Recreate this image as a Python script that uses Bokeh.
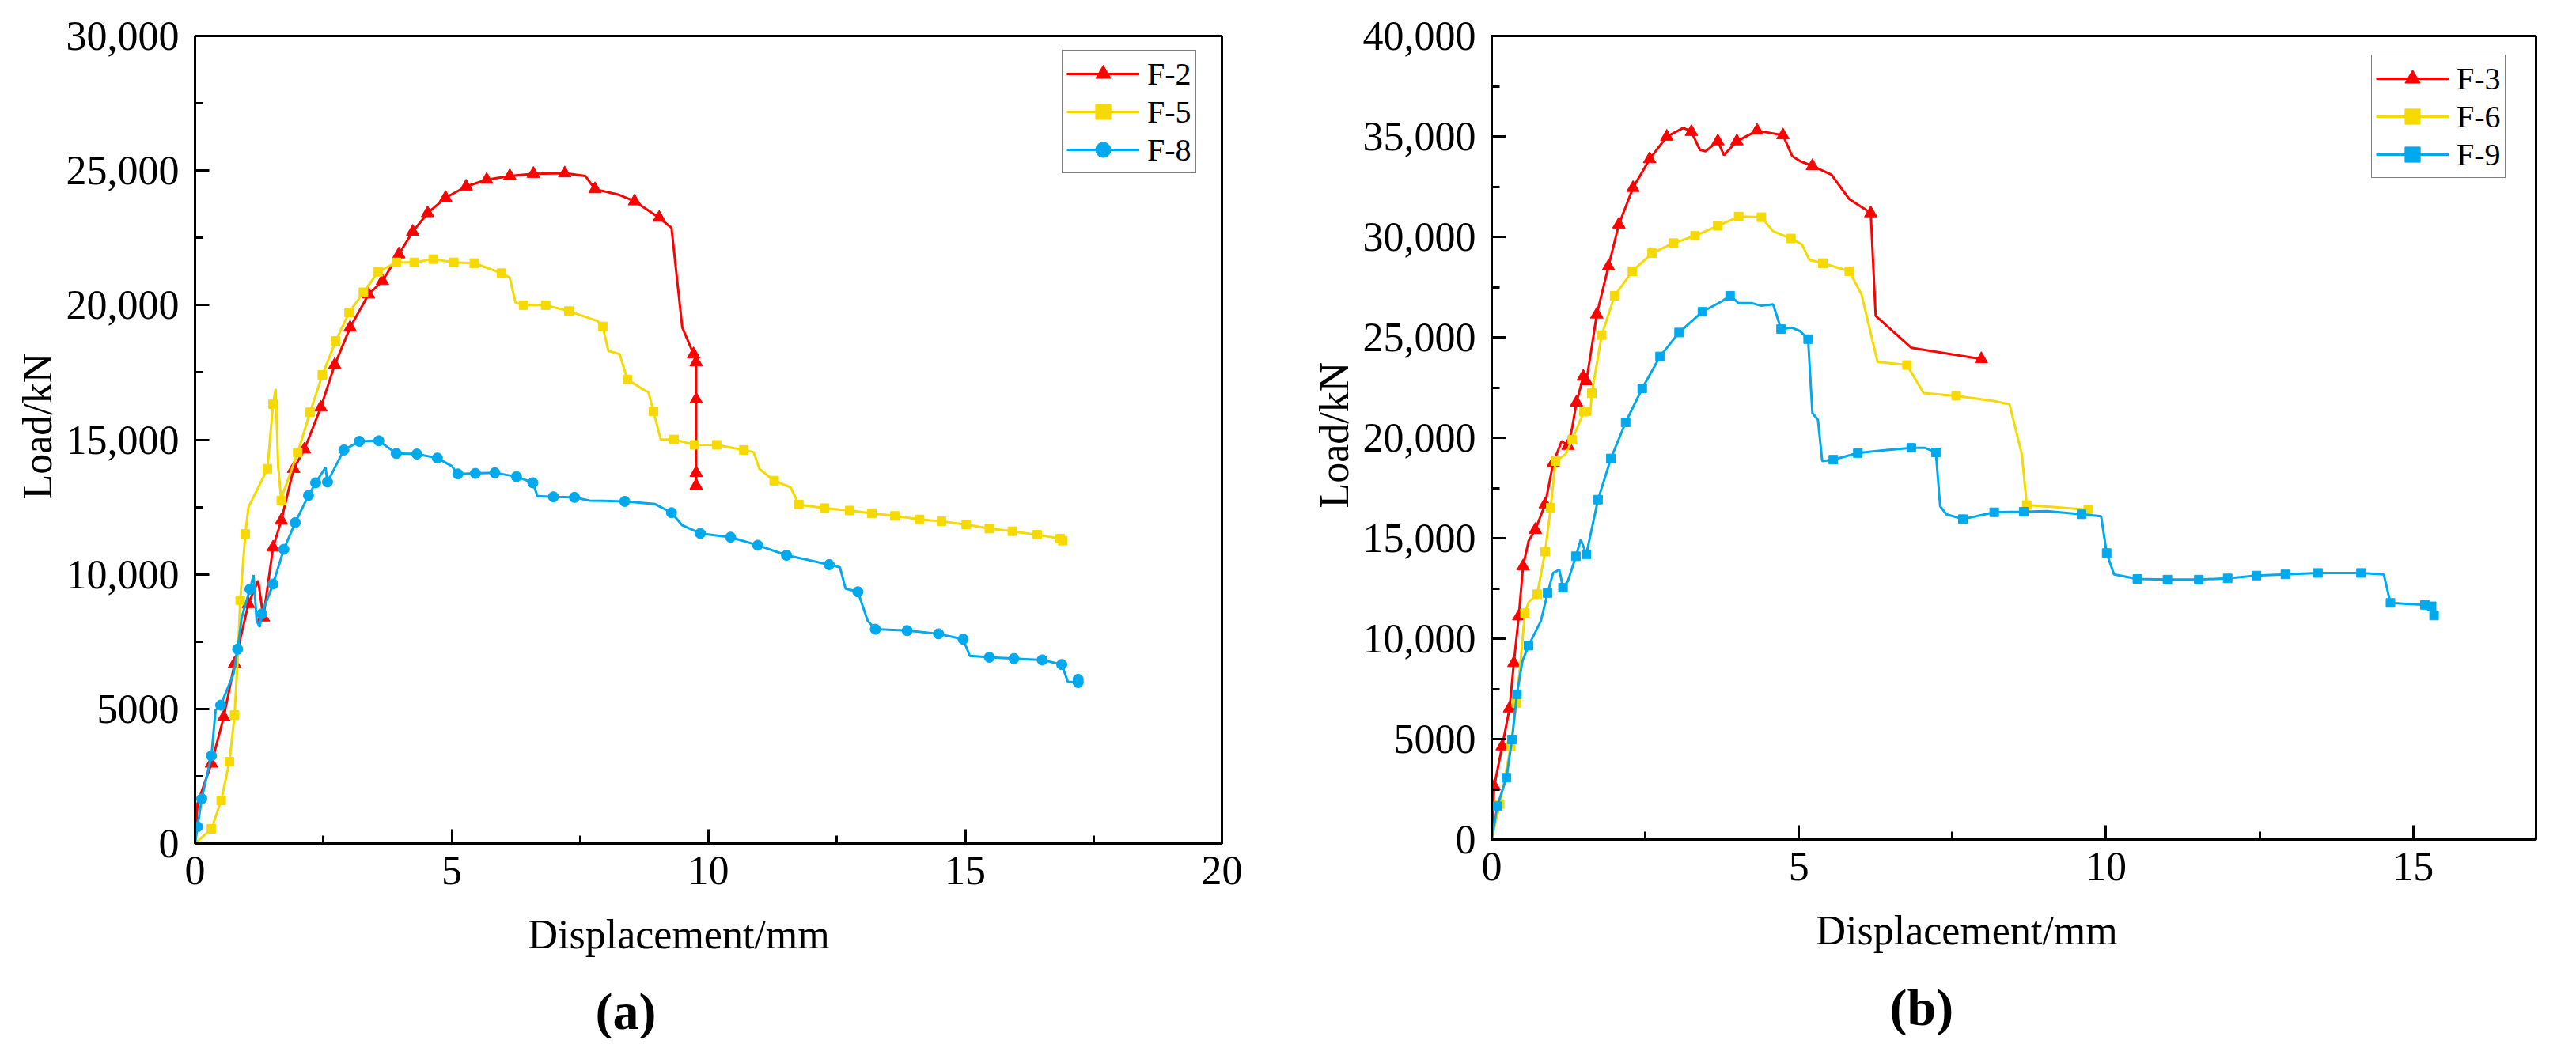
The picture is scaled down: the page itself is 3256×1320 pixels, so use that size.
from bokeh.plotting import figure
from bokeh.layouts import row
from bokeh.models import FixedTicker, Range1d, Legend, LegendItem, Title
from bokeh.embed import file_html
from bokeh.resources import INLINE

# ---------------- data: panel (a) ----------------
f2_x = [0, 0.05, 0.32, 0.56, 0.77, 1.04, 1.23, 1.33, 1.52, 1.68, 1.92, 2.13, 2.45, 2.72, 3.02, 3.38, 3.65,
        3.97, 4.24, 4.53, 4.88, 5.28, 5.68, 6.13, 6.59, 7.2, 7.6, 7.79, 8.24, 8.56, 9.04, 9.28, 9.49, 9.71,
        9.76, 9.76, 9.76, 9.76]
f2_y = [0, 1500, 2970, 4700, 6680, 8900, 9770, 8400, 11000, 12000, 13920, 14640, 16200, 17780, 19170, 20400,
        20900, 21890, 22730, 23420, 23990, 24410, 24660, 24800, 24880, 24900, 24800, 24310, 24110, 23860,
        23250, 22870, 19170, 18180, 17880, 16500, 13770, 13300]
f2_nomark = [0, 1, 6, 26, 28, 31, 32]

f5_x = [0, 0.32, 0.51, 0.67, 0.77, 0.83, 0.88, 0.98, 1.04, 1.41, 1.52, 1.57, 1.62, 1.68, 1.71, 2.0, 2.24,
        2.48, 2.74, 3.0, 3.28, 3.57, 3.92, 4.27, 4.64, 5.04, 5.44, 5.97, 6.13, 6.24, 6.4, 6.83, 7.28, 7.84,
        7.94, 8.05, 8.27, 8.42, 8.75, 8.83, 8.93, 9.07, 9.33, 9.73, 10.16, 10.69, 10.88, 10.99, 11.28, 11.6,
        11.76, 12.26, 12.75, 13.18, 13.63, 14.11, 14.54, 15.02, 15.47, 15.92, 16.4, 16.85, 16.9]
f5_y = [0, 545, 1600, 3040, 4770, 6800, 9030, 11500, 12490, 13920, 16320, 16890, 14000, 12740, 12980, 14520,
        16020, 17410, 18670, 19730, 20480, 21240, 21590, 21590, 21710, 21590, 21560, 21190, 21020, 20100,
        20000, 20000, 19780, 19410, 19210, 18300, 18180, 17240, 16840, 16770, 16050, 15010, 15010, 14810,
        14810, 14620, 14540, 13920, 13480, 13230, 12590, 12460, 12370, 12270, 12170, 12040, 11970, 11850,
        11700, 11600, 11470, 11330, 11250]
f5_nomark = [0, 5, 8, 11, 12, 14, 28, 29, 33, 35, 36, 38, 39, 41, 46, 47, 49]

f8_x = [0, 0.05, 0.13, 0.32, 0.4, 0.5, 0.75, 0.83, 0.91, 1.07, 1.14, 1.2, 1.26, 1.3, 1.52, 1.73, 1.95, 2.21,
        2.35, 2.54, 2.58, 2.9, 3.2, 3.58, 3.92, 4.32, 4.72, 5.0, 5.12, 5.46, 5.84, 6.26, 6.58, 6.67, 6.98,
        7.39, 7.68, 8.37, 8.96, 9.28, 9.49, 9.84, 10.43, 10.96, 11.52, 12.35, 12.56, 12.67, 12.91, 13.1,
        13.25, 13.87, 14.48, 14.96, 15.09, 15.47, 15.95, 16.5, 16.88, 17.0, 17.2, 17.2]
f8_y = [0, 620, 1660, 3260, 4950, 5140, 6300, 7220, 8400, 9450, 9970, 8280, 8040, 8530, 9640, 10930, 11920,
        12930, 13400, 13970, 13430, 14620, 14940, 14960, 14490, 14470, 14320, 14020, 13730, 13750, 13770,
        13630, 13400, 12910, 12880, 12860, 12740, 12710, 12610, 12290, 11820, 11520, 11380, 11080, 10710,
        10360, 10260, 9470, 9350, 8280, 7960, 7910, 7790, 7590, 6970, 6920, 6870, 6820, 6650, 6010, 5980,
        6100]
f8_nomark = [0, 4, 6, 8, 10, 11, 12, 19, 27, 33, 36, 38, 40, 46, 47, 49, 54, 59]

# ---------------- data: panel (b) ----------------
f3_x = [0, 0.04, 0.17, 0.29, 0.36, 0.44, 0.51, 0.6, 0.71, 0.87, 1.0, 1.14, 1.24, 1.31, 1.38, 1.49, 1.54, 1.61,
        1.71, 1.9, 2.07, 2.3, 2.57, 2.85, 3.12, 3.25, 3.39, 3.48, 3.68, 3.78, 3.99, 4.32, 4.74, 4.89, 5.02,
        5.22, 5.53, 5.82, 6.09, 6.17, 6.25, 6.83, 7.97]
f3_y = [0, 2650, 4640, 6530, 8790, 11110, 13600, 14860, 15420, 16690, 18740, 19840, 19600, 20500, 21760,
        23050, 22820, 24150, 26140, 28530, 30620, 32440, 33870, 34990, 35430, 35230, 34330, 34260, 34760,
        34070, 34760, 35290, 35060, 34030, 33770, 33530, 33100, 31880, 31350, 31180, 26070, 24480, 23920]
f3_nomark = [0, 7, 11, 13, 17, 24, 26, 27, 29, 33, 34, 36, 37, 38, 40, 41]

f6_x = [0, 0.13, 0.31, 0.4, 0.47, 0.54, 0.6, 0.74, 0.87, 0.96, 1.04, 1.2, 1.31, 1.5, 1.57, 1.6, 1.63, 1.79,
        2.0, 2.29, 2.61, 2.96, 3.31, 3.68, 4.02, 4.39, 4.58, 4.87, 5.05, 5.17, 5.39, 5.82, 6.02, 6.28, 6.76,
        7.03, 7.56, 8.17, 8.43, 8.63, 8.71, 9.3, 9.71]
f6_y = [0, 1760, 4640, 6800, 8890, 11280, 11810, 12210, 14330, 16520, 18840, 19170, 19900, 21300, 21500,
        21100, 22220, 25110, 27070, 28290, 29190, 29690, 30050, 30550, 31010, 30980, 30280, 29920, 29620,
        28860, 28690, 28290, 27130, 23780, 23620, 22220, 22090, 21830, 21660, 19170, 16650, 16520, 16420]
f6_nomark = [0, 4, 6, 11, 14, 15, 26, 28, 29, 32, 33, 35, 37, 38, 39, 41]

f9_x = [0, 0.09, 0.24, 0.33, 0.41, 0.5, 0.6, 0.8, 0.91, 1.0, 1.1, 1.16, 1.24, 1.37, 1.45, 1.54, 1.73, 1.94,
        2.18, 2.45, 2.74, 3.05, 3.43, 3.75, 3.88, 4.02, 4.24, 4.39, 4.58, 4.71, 4.89, 5.02, 5.15, 5.22, 5.31,
        5.38, 5.56, 5.96, 6.36, 6.83, 7.05, 7.23, 7.3, 7.4, 7.67, 8.18, 8.66, 9.04, 9.6, 9.92, 10.01, 10.13,
        10.51, 11.0, 11.51, 11.98, 12.45, 12.92, 13.45, 14.15, 14.52, 14.63, 15.19, 15.3, 15.34]
f9_y = [0, 1660, 3080, 4980, 7230, 8890, 9650, 10880, 12270, 13270, 13430, 12540, 12870, 14100, 14930, 14200,
        16920, 18970, 20770, 22460, 24050, 25240, 26270, 26800, 27070, 26700, 26700, 26570, 26640, 25410,
        25480, 25310, 24910, 21230, 20900, 18840, 18910, 19240, 19370, 19500, 19500, 19270, 16590, 16190,
        15950, 16290, 16320, 16350, 16190, 16090, 14260, 13200, 12970, 12940, 12940, 13000, 13140, 13200,
        13270, 13270, 13200, 11780, 11680, 11610, 11150]
f9_nomark = [0, 5, 7, 9, 10, 12, 14, 23, 25, 26, 27, 28, 30, 31, 33, 34, 35, 38, 40, 42, 43, 47, 49, 51, 60]

# ---------------- ticks ----------------
xa_ticks = [0, 5, 10, 15, 20]
xa_minor = [2.5, 7.5, 12.5, 17.5]
ya_ticks = [0, 5000, 10000, 15000, 20000, 25000, 30000]
ya_labels = ["0", "5000", "10,000", "15,000", "20,000", "25,000", "30,000"]
ya_minor = [2500, 7500, 12500, 17500, 22500, 27500]

xb_ticks = [0, 5, 10, 15]
xb_minor = [2.5, 7.5, 12.5]
yb_ticks = [0, 5000, 10000, 15000, 20000, 25000, 30000, 35000, 40000]
yb_labels = ["0", "5000", "10,000", "15,000", "20,000", "25,000", "30,000", "35,000", "40,000"]
yb_minor = [2500, 7500, 12500, 17500, 22500, 27500, 32500, 37500]

FONT = "Liberation Serif"
RED = "#FF0000"
YELLOW = "#F5D900"
BLUE = "#00A9EE"


def marked(xs, ys, skip):
    mx = [x for i, x in enumerate(xs) if i not in skip]
    my = [y for i, y in enumerate(ys) if i not in skip]
    return mx, my


def panel(xr, yr, xt, xm, yt, ylab, ym, fw, fh, bl, br, bt, bb):
    p = figure(frame_width=fw, frame_height=fh, min_border_left=bl, min_border_right=br,
               min_border_top=bt, min_border_bottom=bb, x_range=Range1d(*xr), y_range=Range1d(*yr),
               output_backend="svg", toolbar_location=None, background_fill_color="white",
               border_fill_color="white")
    p.xgrid.visible = False
    p.ygrid.visible = False
    p.outline_line_color = "black"
    p.outline_line_width = 3
    p.xaxis.ticker = FixedTicker(ticks=xt, minor_ticks=xm)
    p.yaxis.ticker = FixedTicker(ticks=yt, minor_ticks=ym)
    p.yaxis.major_label_overrides = {t: s for t, s in zip(yt, ylab)}
    for ax in (p.xaxis[0], p.yaxis[0]):
        ax.axis_line_width = 3
        ax.axis_line_color = "black"
        ax.major_tick_in = 18
        ax.major_tick_out = 0
        ax.minor_tick_in = 10
        ax.minor_tick_out = 0
        ax.major_tick_line_width = 3
        ax.minor_tick_line_width = 3
        ax.major_tick_line_color = "black"
        ax.minor_tick_line_color = "black"
        ax.major_label_text_font = FONT
        ax.major_label_text_font_size = "52px"
        ax.major_label_text_color = "black"
    p.xaxis.major_label_standoff = 16
    p.yaxis.major_label_standoff = 20
    return p


def add_series(p, xs, ys, skip, color, marker, size):
    ln = p.line(xs, ys, line_color=color, line_width=3)
    mx, my = marked(xs, ys, skip)
    sc = p.scatter(mx, my, marker=marker, size=size, fill_color=color, line_color=color, line_width=1)
    return [ln, sc]


def add_legend(p, items, loc):
    lg = Legend(items=[LegendItem(label=l, renderers=r) for l, r in items], location=loc,
                border_line_color="black", border_line_width=1.5, padding=5, spacing=0,
                glyph_width=92, glyph_height=48, label_standoff=10, label_text_font=FONT,
                label_text_font_size="40px", label_text_color="black", margin=0,
                background_fill_color="white", background_fill_alpha=1)
    p.add_layout(lg, "center")


def add_title(p, text, side, size, align, offset, standoff, style="normal"):
    p.add_layout(Title(text=text, align=align, offset=offset, standoff=standoff, text_font=FONT,
                       text_font_size=size, text_font_style=style, text_color="black"), side)


# ---------------- panel (a) ----------------
pa = panel((0, 20), (0, 30000), xa_ticks, xa_minor, ya_ticks, ya_labels, ya_minor,
           1298, 1021, 246, 76, 44, 180)
ra = add_series(pa, f2_x, f2_y, f2_nomark, RED, "triangle", 16)
rb = add_series(pa, f5_x, f5_y, f5_nomark, YELLOW, "square", 11)
rc = add_series(pa, f8_x, f8_y, f8_nomark, BLUE, "circle", 13)
add_legend(pa, [("F-2", ra), ("F-5", rb), ("F-8", rc)], (1096, 847))
add_title(pa, "Load/kN", "left", "52px", "left", 435, 10)
add_title(pa, "Displacement/mm", "below", "52px", "left", 421, 60)
add_title(pa, "(a)", "below", "66px", "left", 506, 0, style="bold")

# ---------------- panel (b) ----------------
pb = panel((0, 17), (0, 40000), xb_ticks, xb_minor, yb_ticks, yb_labels, yb_minor,
           1320, 1016, 265, 35, 45, 180)
sa = add_series(pb, f3_x, f3_y, f3_nomark, RED, "triangle", 16)
sb = add_series(pb, f6_x, f6_y, f6_nomark, YELLOW, "square", 11)
sc_ = add_series(pb, f9_x, f9_y, f9_nomark, BLUE, "square", 11)
add_legend(pb, [("F-3", sa), ("F-6", sb), ("F-9", sc_)], (1112, 836))
add_title(pb, "Load/kN", "left", "52px", "left", 419, 10)
add_title(pb, "Displacement/mm", "below", "52px", "left", 410, 60)
add_title(pb, "(b)", "below", "66px", "left", 503, 0, style="bold")

layout = row(pa, pb)
open("out.html", "w").write(file_html(layout, INLINE))
